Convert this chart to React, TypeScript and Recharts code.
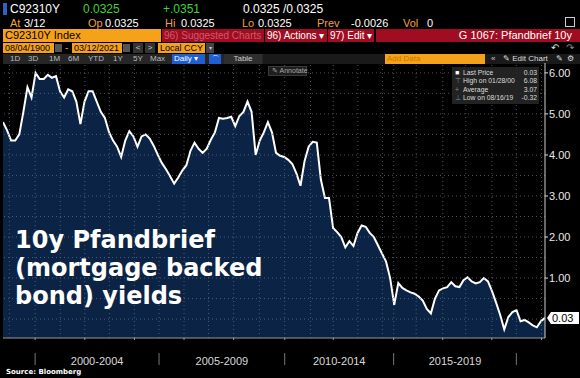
import React from "react";
import { ComposedChart, Area, XAxis, YAxis, ReferenceLine } from "recharts";

const yields = [
  4.8, 4.6, 4.35, 4.35, 4.5, 5.05, 5.65, 5.4, 6.0, 5.85,
  5.85, 5.95, 5.88, 5.92, 5.55, 5.4, 5.6, 5.55, 5.3, 4.75,
  5.3, 5.55, 5.55, 5.3, 5.05, 4.9, 4.56, 4.35, 4.2, 3.95,
  4.35, 4.58, 4.45, 4.2, 4.45, 4.5, 4.4, 4.22, 4.0, 3.8,
  3.65, 3.48, 3.3, 3.45, 3.62, 3.75, 4.1, 4.3, 4.15, 4.05,
  4.15, 4.37, 4.55, 4.9, 4.88, 4.9, 4.93, 4.7, 4.95, 5.05,
  5.3, 5.05, 4.0, 4.35, 4.55, 4.8, 4.55, 4.05, 3.98, 3.95,
  3.88, 3.78, 3.55, 3.25, 3.85, 4.2, 4.32, 4.3, 3.4, 2.95,
  2.95, 2.22, 2.12, 2.0, 1.75, 1.9, 1.78, 2.1, 2.28, 2.25,
  2.1, 2.0, 1.8, 1.6, 1.4, 1.0, 0.35, 0.88, 0.76, 0.7,
  0.65, 0.62, 0.55, 0.45, 0.25, 0.14, 0.5, 0.7, 0.75, 0.78,
  0.9, 0.8, 0.78, 0.95, 1.02, 0.92, 0.87, 0.9, 1.0, 0.92,
  0.68, 0.4, 0.1, -0.25, 0.05, 0.17, 0.22, -0.05, -0.02, -0.08,
  -0.15, -0.2, -0.05, 0.03,
];

const yearTicks = [
  1.58, 7.88, 14.05, 20.08, 26.1, 32.25, 38.29, 44.42, 50.44, 56.59, 62.91,
  69.13, 75.46, 81.05, 87.08, 93.1, 95.86, 101.38, 107.9, 113.55, 119.95, 125.97, 132.15,
];
const periodBounds = [7.88, 38.29, 69.13, 95.86, 125.97];
const periodLabels = ["2000-2004", "2005-2009", "2010-2014", "2015-2019"];
const periodMids = periodLabels.map((_, k) => (periodBounds[k] + periodBounds[k + 1]) / 2);

const yTicks = [-0.5, 0, 0.5, 1, 1.5, 2, 2.5, 3, 3.5, 4, 4.5, 5, 5.5, 6];
const yLabels = [1, 2, 3, 4, 5, 6];
const lastPrice = 0.03;

const legendRows = [
  ["Last Price", "0.03"],
  ["High on 01/28/00", "6.08"],
  ["Average", "3.07"],
  ["Low on 08/16/19", "-0.32"],
];

const data = yields.map((v, i) => ({ i, v }));

const FONT = "'Liberation Sans', Arial, sans-serif";
const ORANGE = "#f5a11a";
const AMBER = "#f0a23a";
const RED = "#a00d22";
const GRID = "#6c7486";

const Txt = ({ x, y, c = "#fff", s = 11, children, w = 400 }: any) => (
  <span style={{ position: "absolute", left: x, top: y, color: c, fontSize: s, fontWeight: w, whiteSpace: "nowrap", lineHeight: 1 }}>
    {children}
  </span>
);

const Box = ({ x, y, w, h, bg, children, c = "#000", s = 10, align = "left", pad = 2 }: any) => (
  <div style={{ position: "absolute", left: x, top: y, width: w, height: h, background: bg, color: c, fontSize: s, lineHeight: h + "px", textAlign: align, paddingLeft: pad, paddingRight: pad, boxSizing: "border-box", whiteSpace: "nowrap", overflow: "hidden" }}>
    {children}
  </div>
);

const YTick = (props: any) => {
  const { x, y, payload } = props;
  if (!yLabels.includes(payload.value)) return <g />;
  return (
    <g>
      <line x1={x - 3} x2={x} y1={y} y2={y} stroke="#ddd" />
      <text x={x + 1} y={y} dy={4} fill="#e8e8e8" fontSize={11} fontFamily={FONT}>
        {payload.value.toFixed(2)}
      </text>
    </g>
  );
};

const NoTick = () => <g />;

const PeriodTick = (props: any) => {
  const { x, y, payload } = props;
  const v = payload.value;
  if (periodBounds.includes(v)) {
    return <line x1={x} x2={x} y1={y + 9} y2={y + 21} stroke="#777" />;
  }
  const k = periodMids.indexOf(v);
  return (
    <text x={x} y={y + 21} textAnchor="middle" fill="#d8d8d8" fontSize={11} fontFamily={FONT}>
      {periodLabels[k]}
    </text>
  );
};

const LastTag = (props: any) => {
  const { viewBox } = props;
  const x = viewBox.x + viewBox.width + 2;
  const y = viewBox.y;
  return (
    <g>
      <polygon points={`${x},${y} ${x + 4},${y - 6} ${x + 32},${y - 6} ${x + 32},${y + 6} ${x + 4},${y + 6}`} fill="#fff" />
      <text x={x + 5} y={y + 4} fill="#000" fontSize={11} fontFamily={FONT}>
        {lastPrice.toFixed(2)}
      </text>
    </g>
  );
};

export default function App() {
  return (
    <div style={{ position: "relative", width: 580, height: 378, background: "#000", overflow: "hidden", fontFamily: FONT }}>
      <style>{"body{margin:0;background:#000}"}</style>

      {/* row 1 */}
      <div style={{ position: "absolute", left: 3, top: 3, width: 4, height: 12, background: "#2c62c4" }} />
      <Txt x={10} y={3} s={12}>C92310Y</Txt>
      <Txt x={83} y={3} s={12} c="#3fd23f">0.0325</Txt>
      <Txt x={163} y={3} s={12} c="#3fd23f">+.0351</Txt>
      <Txt x={243} y={3} s={12}>0.0325 /0.0325</Txt>
      {/* row 2 */}
      <Txt x={10} y={18} c={AMBER}>At</Txt>
      <Txt x={24} y={18}>3/12</Txt>
      <Txt x={88} y={18} c={AMBER}>Op</Txt>
      <Txt x={105} y={18}>0.0325</Txt>
      <Txt x={165} y={18} c={AMBER}>Hi</Txt>
      <Txt x={181} y={18}>0.0325</Txt>
      <Txt x={242} y={18} c={AMBER}>Lo</Txt>
      <Txt x={258} y={18}>0.0325</Txt>
      <Txt x={317} y={18} c={AMBER}>Prev</Txt>
      <Txt x={351} y={18}>-0.0026</Txt>
      <Txt x={403} y={18} c={AMBER}>Vol</Txt>
      <Txt x={427} y={18}>0</Txt>
      <div style={{ position: "absolute", left: 565, top: 17, width: 8, height: 8, border: "1px solid #ccc" }} />
      {/* row 3 */}
      <Box x={3} y={29} w={158} h={13} bg={ORANGE} s={11}>C92310Y Index</Box>
      <Box x={162} y={29} w={102} h={13} bg={RED} c="#cf5a6a" s={10}>96) Suggested Charts</Box>
      <Box x={265} y={29} w={62} h={13} bg={RED} c="#fff" s={10}>96) Actions ▾</Box>
      <Box x={328} y={29} w={46} h={13} bg={RED} c="#fff" s={10}>97) Edit ▾</Box>
      <Box x={376} y={29} w={204} h={13} bg={RED} c="#fff" s={11} align="right" pad={8}>G 1067: Pfandbrief 10y</Box>
      {/* row 4 */}
      <Box x={3} y={43} w={51} h={10} bg={ORANGE} s={9}>08/04/1900</Box>
      <Box x={55} y={44} w={7} h={8} bg="#555" />
      <Txt x={65} y={43} c={ORANGE} s={10}>-</Txt>
      <Box x={72} y={43} w={50} h={10} bg={ORANGE} s={9}>03/12/2021</Box>
      <Box x={123} y={44} w={7} h={8} bg="#555" />
      <Box x={133} y={43} w={10} h={10} bg="#333" c="#ccc" s={8} align="center" pad={0}>&lt;</Box>
      <Box x={145} y={43} w={10} h={10} bg="#333" c="#ccc" s={8} align="center" pad={0}>&gt;</Box>
      <Box x={158} y={43} w={47} h={10} bg={ORANGE} s={9}>Local CCY</Box>
      <Box x={206} y={43} w={8} h={10} bg="#444" c="#ccc" s={6} align="center" pad={0}>▾</Box>
      <Txt x={551} y={43} c="#ddd" s={10}>↶</Txt>
      <Txt x={566} y={43} c="#888" s={10}>↷</Txt>
      {/* row 5 */}
      <div style={{ position: "absolute", left: 3, top: 54, width: 260, height: 10, background: "#262626" }} />
      {["1D", "3D", "1M", "6M", "YTD", "1Y", "5Y", "Max"].map((t, k) => (
        <Txt key={t} x={[10, 28, 49, 68, 88, 113, 133, 150][k]} y={55} c="#bbb" s={8}>{t}</Txt>
      ))}
      <Box x={172} y={54} w={33} h={10} bg="#1f5fcf" c="#fff" s={8}>Daily ▾</Box>
      <Box x={209} y={54} w={12} h={10} bg="#1f5fcf" c="#fff" s={7} align="center" pad={0}>⌒</Box>
      <Box x={224} y={54} w={38} h={10} bg="#2e2e2e" c="#ccc" s={8} align="center">Table</Box>
      <div style={{ position: "absolute", left: 263, top: 54, width: 317, height: 10, background: "#1a1a1a" }} />
      <Box x={385} y={54} w={100} h={10} bg={ORANGE} c="#c47a00" s={8}>Add Data</Box>
      <Txt x={491} y={55} c="#ccc" s={8}>«</Txt>
      <Txt x={503} y={55} c="#ddd" s={8}>✎ Edit Chart</Txt>
      <Txt x={556} y={55} c="#ddd" s={8}>✎</Txt>
      <Txt x={567} y={55} c="#ddd" s={8}>⚙</Txt>

      <div style={{ position: "absolute", left: 0, top: 62 }}>
        <ComposedChart width={580} height={316} data={data} margin={{ top: 1, right: 0, bottom: 0, left: 3 }}>
          <Area
            type="linear"
            dataKey="v"
            stroke="#ffffff"
            strokeWidth={2}
            fill="#0b2445"
            fillOpacity={1}
            baseValue="dataMin"
            isAnimationActive={false}
            dot={false}
            activeDot={false}
          />
          {yTicks.map((t) => (
            <ReferenceLine key={"h" + t} y={t} stroke={GRID} strokeOpacity={0.7} strokeDasharray="1 3" />
          ))}
          {yearTicks.map((t) => (
            <ReferenceLine key={"v" + t} x={t} stroke={GRID} strokeOpacity={0.7} strokeDasharray="1 3" />
          ))}
          <XAxis
            dataKey="i"
            type="number"
            domain={[0, 133]}
            ticks={yearTicks}
            height={6}
            tick={NoTick}
            tickSize={2}
            tickLine={{ stroke: "#999" }}
            axisLine={{ stroke: "#999" }}
            allowDataOverflow
          />
          <XAxis
            xAxisId="p"
            dataKey="i"
            type="number"
            domain={[0, 133]}
            ticks={[...periodBounds, ...periodMids]}
            height={34}
            tick={PeriodTick}
            tickSize={0}
            tickMargin={0}
            tickLine={false}
            axisLine={false}
            interval={0}
            allowDataOverflow
          />
          <YAxis
            orientation="right"
            width={35}
            type="number"
            domain={[-0.46, 6.24]}
            ticks={yTicks}
            interval={0}
            tick={YTick}
            tickSize={0}
            tickMargin={3}
            tickLine={false}
            axisLine={{ stroke: "#cfcfcf" }}
            allowDataOverflow
          />
          <ReferenceLine y={lastPrice} stroke="none" label={{ content: LastTag }} />
        </ComposedChart>
      </div>

      {/* annotate button */}
      <div style={{ position: "absolute", left: 268, top: 66, width: 39, height: 10, background: "#1e1e1e", border: "1px solid #3a3a3a", boxSizing: "border-box", color: "#aaa", fontSize: 7, lineHeight: "8px", paddingLeft: 3, whiteSpace: "nowrap" }}>
        ✎ Annotate
      </div>

      {/* legend */}
      <div style={{ position: "absolute", left: 452, top: 67, width: 87, height: 37, background: "rgba(38,38,38,0.9)" }}>
        {legendRows.map((r, k) => (
          <div key={r[0]} style={{ position: "absolute", left: 3, top: 2 + k * 8.3, width: 82, fontSize: 6.8, lineHeight: "8px", color: "#ddd", display: "flex", whiteSpace: "nowrap" }}>
            <span style={{ width: 8, color: k === 0 ? "#fff" : "#888" }}>{k === 0 ? "■" : k === 1 ? "⊤" : k === 2 ? "+" : "⊥"}</span>
            <span style={{ flex: 1 }}>{r[0]}</span>
            <span>{r[1]}</span>
          </div>
        ))}
      </div>

      {/* title */}
      <div style={{ position: "absolute", left: 15, top: 226, color: "#fff", fontFamily: "'DejaVu Sans', Verdana, sans-serif", fontWeight: 700, fontSize: 24, lineHeight: "28px" }}>
        10y Pfandbrief<br />(mortgage backed<br />bond) yields
      </div>

      <div style={{ position: "absolute", left: 6, top: 368, color: "#fff", fontSize: 7, fontWeight: 700, fontFamily: "'DejaVu Sans', Verdana, sans-serif" }}>
        Source: Bloomberg
      </div>
    </div>
  );
}
